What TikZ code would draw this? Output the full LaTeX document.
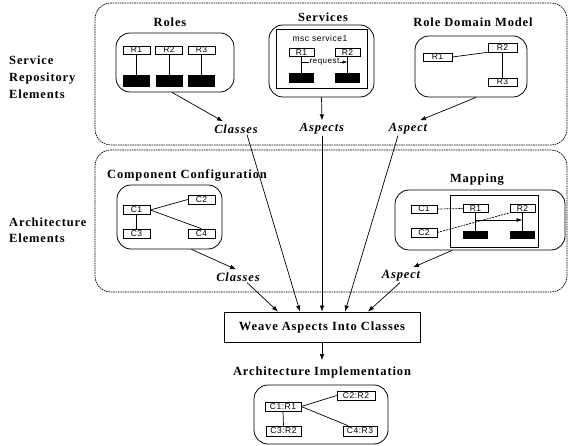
\documentclass[tikz,border=0pt]{standalone}
\usepackage{fontspec}
\setmainfont{Liberation Serif}
\newfontfamily\ttlfont[LetterSpace=7]{Liberation Serif}
\newfontfamily\smfont[LetterSpace=6]{Liberation Sans}
\usetikzlibrary{arrows.meta}
\begin{document}
\begin{tikzpicture}[x=1pt,y=-1pt,
 region/.style={draw, line width=0.7pt, dash pattern=on 1.6pt off 0.8pt, rounded corners=16pt, inner sep=0pt},
 rbox/.style={draw, line width=0.8pt, rounded corners=14pt, inner sep=0pt},
 frame/.style={draw, line width=0.8pt, inner sep=0pt},
 sbox/.style={draw, line width=0.6pt, inner sep=0pt, font=\smfont\fontsize{8.5}{9}\selectfont},
 bar/.style={fill=black, inner sep=0pt},
 ttl/.style={font=\ttlfont\bfseries\fontsize{12.5}{14}\selectfont, inner sep=0pt},
 lab/.style={font=\ttlfont\bfseries\itshape\fontsize{12.5}{14}\selectfont, inner sep=1pt},
 side/.style={align=left, anchor=west, inner sep=0pt},
 arr/.style={-{Latex[length=6pt,width=4.5pt]}, line width=0.7pt},
 ln/.style={line width=0.7pt},
]
\useasboundingbox (0,0) rectangle (570,446);

% regions
\node[region, minimum width=472pt, minimum height=142pt] (reg1) at (331,74) {};
\node[region, minimum width=472pt, minimum height=142pt] (reg2) at (331,221) {};

% side labels
\node[side, font=\ttlfont\bfseries\fontsize{12.5}{17}\selectfont] (sideA) at (9,77) {Service\\Repository\\Elements};
\node[side, font=\ttlfont\bfseries\fontsize{12.5}{16}\selectfont] (sideB) at (9,230) {Architecture\\Elements};

% Roles
\node[ttl] (rolesT) at (170,22) {Roles};
\node[rbox, minimum width=118pt, minimum height=59pt] (roles) at (175,62.5) {};
\foreach \n/\x in {1/136.5,2/169,3/201.5}{
  \node[sbox, minimum width=27pt, minimum height=8pt] (ra\n) at (\x,50) {R\n};
  \node[bar, minimum width=27pt, minimum height=12pt] (rb\n) at (\x,81) {};
  \draw[ln] (ra\n.south) -- (rb\n.north);
}

% Services
\node[ttl] (servT) at (323,17) {Services};
\node[rbox, minimum width=105pt, minimum height=72pt] (serv) at (321.5,61) {};
\node[frame, minimum width=91pt, minimum height=59pt] (msc) at (321.5,58.5) {};
\node[inner sep=0pt, font=\smfont\fontsize{8.5}{9}\selectfont] (mscT) at (320,38) {msc service1};
\node[sbox, minimum width=25pt, minimum height=8pt] (sr1) at (301.5,52.5) {R1};
\node[sbox, minimum width=25pt, minimum height=8pt] (sr2) at (347.5,52.5) {R2};
\node[bar, minimum width=25pt, minimum height=10pt] (sb1) at (301.5,78) {};
\node[bar, minimum width=25pt, minimum height=10pt] (sb2) at (347.5,78) {};
\draw[ln] (sr1.south) -- (sb1.north);
\draw[ln] (sr2.south) -- (sb2.north);
\draw[ln, -{Latex[length=5pt,width=3.5pt]}] (sr1.south |- 0,62) -- node[fill=white, inner sep=0.6pt, font=\smfont\fontsize{8}{9}\selectfont] (req) {request} (sr2.south |- 0,62);

% Role Domain Model
\node[ttl] (rdmT) at (473,22) {Role Domain Model};
\node[rbox, minimum width=112pt, minimum height=61pt] (rdm) at (471,66.5) {};
\node[sbox, minimum width=29pt, minimum height=8pt] (dr1) at (437.5,57) {R1};
\node[sbox, minimum width=29pt, minimum height=9pt] (dr2) at (502.5,47.5) {R2};
\node[sbox, minimum width=29pt, minimum height=8pt] (dr3) at (502.5,82) {R3};
\draw[ln] (dr1.east) -- (dr2.south west);
\draw[ln] (dr2.south) -- (dr3.north);

% labels region 1
\node[lab] (cls1) at (236,129) {Classes};
\node[lab] (asp1) at (322,129) {Aspects};
\node[lab] (asp1b) at (408,129) {Aspect};
\draw[arr] ([xshift=-3pt]roles.south) -- ([xshift=-13pt,yshift=2pt]cls1.north);
\draw[arr] (serv.south) -- ([yshift=2pt]asp1.north);
\draw[arr] ([xshift=5pt]rdm.south) -- ([xshift=12pt,yshift=2pt]asp1b.north);

% Component Configuration
\node[ttl] (ccT) at (187,175) {Component Configuration};
\node[rbox, minimum width=105pt, minimum height=64pt] (cc) at (169.5,217) {};
\node[sbox, minimum width=27pt, minimum height=9pt] (c1) at (136.5,210) {C1};
\node[sbox, minimum width=27pt, minimum height=9pt] (c2) at (201.5,199.5) {C2};
\node[sbox, minimum width=27pt, minimum height=9pt] (c3) at (136.5,233.5) {C3};
\node[sbox, minimum width=27pt, minimum height=9pt] (c4) at (201.5,233.5) {C4};
\draw[ln] (c1.east) -- (c2.west);
\draw[ln] (c1.east) -- (c4.north);
\draw[ln] (c1.south) -- (c3.north);

% Mapping
\node[ttl] (mapT) at (477,180) {Mapping};
\node[rbox, minimum width=170pt, minimum height=60pt] (map) at (480,220) {};
\node[frame, minimum width=88pt, minimum height=52pt] (mapin) at (494,221) {};
\node[sbox, minimum width=26pt, minimum height=8pt] (mc1) at (424,209) {C1};
\node[sbox, minimum width=26pt, minimum height=9pt] (mc2) at (424,232.5) {C2};
\node[sbox, minimum width=25pt, minimum height=8pt] (mr1) at (475.5,208.5) {R1};
\node[sbox, minimum width=25pt, minimum height=8pt] (mr2) at (522.5,208.5) {R2};
\node[bar, minimum width=25pt, minimum height=8pt] (mb1) at (475.5,235) {};
\node[bar, minimum width=25pt, minimum height=8pt] (mb2) at (522.5,235) {};
\draw[ln] (mr1.south) -- (mb1.north);
\draw[ln] (mr2.south) -- (mb2.north);
\draw[ln, -{Latex[length=6pt,width=4pt]}] (mr1.south |- 0,220) -- (mr2.south |- 0,220);
\draw[ln, dash pattern=on 2pt off 1pt] (mc1.east) -- (mr1.west);
\draw[ln, dash pattern=on 2pt off 1pt] (mc2.east) -- (mr2.south west);

% labels region 2
\node[lab] (cls2) at (238,277) {Classes};
\node[lab] (asp2) at (401,276) {Aspect};
\draw[arr] ([xshift=22pt]cc.south) -- ([xshift=-2pt,yshift=2pt]cls2.north);
\draw[arr] ([xshift=-28pt]map.south) -- ([xshift=12pt,yshift=2pt]asp2.north);

% Weave
\node[frame, minimum width=196pt, minimum height=30pt, font=\ttlfont\bfseries\fontsize{12.5}{14}\selectfont] (weave) at (322,327) {Weave Aspects Into Classes};
\draw[arr] ([xshift=9pt]cls2.south) -- ([xshift=-44pt]weave.north);
\draw[arr] ([xshift=11pt]cls1.south) -- ([xshift=-22pt]weave.north);
\draw[arr] (asp1.south) -- (weave.north);
\draw[arr] ([xshift=-10pt]asp1b.south) -- ([xshift=23pt]weave.north);
\draw[arr] ([xshift=-1pt]asp2.south) -- ([xshift=46pt]weave.north);

% Architecture Implementation
\node[ttl] (aiT) at (322,372) {Architecture Implementation};
\draw[arr] (weave.south) -- ([yshift=6pt]aiT.north);
\node[rbox, minimum width=134pt, minimum height=59pt] (ai) at (321,414.5) {};
\node[sbox, minimum width=36pt, minimum height=9pt] (a1) at (283,406.5) {C1:R1};
\node[sbox, minimum width=38pt, minimum height=9pt] (a2) at (356,395.5) {C2:R2};
\node[sbox, minimum width=35pt, minimum height=10pt] (a3) at (283.5,431) {C3:R2};
\node[sbox, minimum width=34pt, minimum height=10pt] (a4) at (360,431) {C4:R3};
\draw[ln] (a1.east) -- (a2.west);
\draw[ln] (a1.east) -- ([xshift=-12pt]a4.north);
\draw[ln] (a1.south) -- (a3.north);
\end{tikzpicture}
\end{document}
